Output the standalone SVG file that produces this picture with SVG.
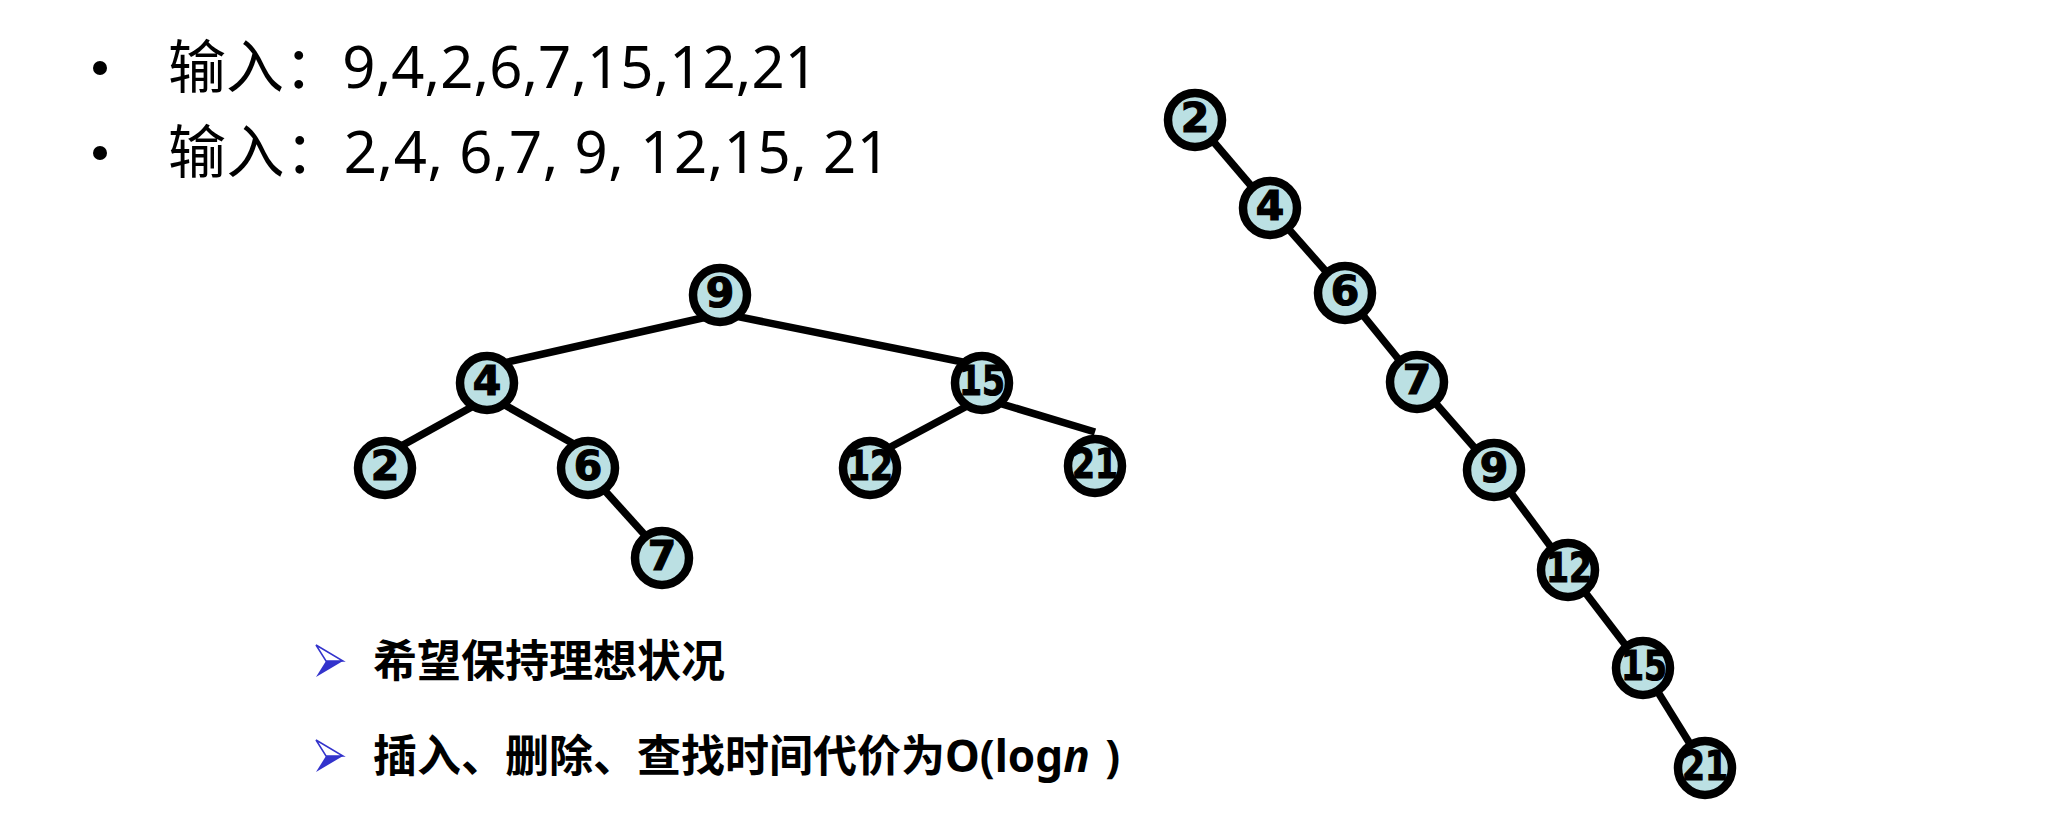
<svg xmlns="http://www.w3.org/2000/svg" width="2048" height="824" viewBox="0 0 2048 824">
<style>
.node circle{fill:#BBE0E3;stroke:#000;stroke-width:8.5}
.node text{font-family:"DejaVu Sans",sans-serif;font-weight:bold;font-size:41px;text-anchor:middle;fill:#000;stroke:#000;stroke-width:1.2}
.edge{stroke:#000;stroke-width:7.5;stroke-linecap:butt;fill:none}
.top{font-family:"Noto Sans","Noto Sans CJK SC",sans-serif;font-size:58px;fill:#000}
.bot{font-family:"Noto Sans","Noto Sans CJK SC",sans-serif;font-size:44px;font-weight:bold;fill:#000}
.arrUp{fill:#fff;stroke:#3333CC;stroke-width:1.5;stroke-linejoin:miter}
.arrDn{fill:#3333CC}
</style>
<defs>
<g id="arrow">
<polygon class="arrUp" points="0,0 27,16 10,16"/>
<polygon class="arrDn" points="10,16 27,16 0,32"/>
</g>
</defs>
<rect width="2048" height="824" fill="#fff"/>

<g id="bullets">
<circle cx="100" cy="68" r="7" fill="#000"/>
<circle cx="100" cy="153" r="7" fill="#000"/>
<text class="top" x="168" y="88" textLength="650">输入：9,4,2,6,7,15,12,21</text>
<text class="top" x="168" y="173" textLength="722">输入：2,4, 6,7, 9, 12,15, 21</text>
</g>

<g id="connectors">
<line class="edge" x1="720" y1="314" x2="490" y2="366"/>
<line class="edge" x1="722" y1="313.4" x2="980" y2="365.5"/>
<line class="edge" x1="487" y1="398.5" x2="385" y2="455"/>
<line class="edge" x1="487" y1="395" x2="588" y2="452"/>
<line class="edge" x1="588" y1="472" x2="662" y2="554"/>
<line class="edge" x1="982" y1="398" x2="870" y2="458"/>
<line class="edge" x1="982" y1="398" x2="1095" y2="432"/>
<line class="edge" x1="1195" y1="120" x2="1270" y2="208"/>
<line class="edge" x1="1270" y1="208" x2="1345" y2="293"/>
<line class="edge" x1="1345" y1="293" x2="1417" y2="382"/>
<line class="edge" x1="1417" y1="382" x2="1494" y2="470"/>
<line class="edge" x1="1494" y1="470" x2="1568" y2="570"/>
<line class="edge" x1="1568" y1="570" x2="1643" y2="668"/>
<line class="edge" x1="1643" y1="668" x2="1705" y2="768"/>
</g>

<g id="t9" class="node"><circle cx="720" cy="295" r="27"/><text x="720" y="307">9</text></g>
<g id="t4" class="node"><circle cx="487" cy="383" r="27"/><text x="487" y="395">4</text></g>
<g id="t15" class="node"><circle cx="982" cy="383" r="27"/><text x="982" y="395" textLength="46" lengthAdjust="spacingAndGlyphs">15</text></g>
<g id="t2" class="node"><circle cx="385" cy="468" r="27"/><text x="385" y="480">2</text></g>
<g id="t6" class="node"><circle cx="588" cy="468" r="27"/><text x="588" y="480">6</text></g>
<g id="t12" class="node"><circle cx="870" cy="468" r="27"/><text x="870" y="480" textLength="46" lengthAdjust="spacingAndGlyphs">12</text></g>
<g id="t21" class="node"><circle cx="1095" cy="466" r="27"/><text x="1095" y="478" textLength="46" lengthAdjust="spacingAndGlyphs">21</text></g>
<g id="t7" class="node"><circle cx="662" cy="558" r="27"/><text x="662" y="570">7</text></g>

<g id="c2" class="node"><circle cx="1195" cy="120" r="27"/><text x="1195" y="132">2</text></g>
<g id="c4" class="node"><circle cx="1270" cy="208" r="27"/><text x="1270" y="220">4</text></g>
<g id="c6" class="node"><circle cx="1345" cy="293" r="27"/><text x="1345" y="305">6</text></g>
<g id="c7" class="node"><circle cx="1417" cy="382" r="27"/><text x="1417" y="394">7</text></g>
<g id="c9" class="node"><circle cx="1494" cy="470" r="27"/><text x="1494" y="482">9</text></g>
<g id="c12" class="node"><circle cx="1568" cy="570" r="27"/><text x="1569" y="582" textLength="46" lengthAdjust="spacingAndGlyphs">12</text></g>
<g id="c15" class="node"><circle cx="1643" cy="668" r="27"/><text x="1644" y="680" textLength="46" lengthAdjust="spacingAndGlyphs">15</text></g>
<g id="c21" class="node"><circle cx="1705" cy="768" r="27"/><text x="1705" y="780" textLength="46" lengthAdjust="spacingAndGlyphs">21</text></g>

<g id="notes">
<use href="#arrow" x="316" y="645"/>
<use href="#arrow" x="316" y="740"/>
<text class="bot" x="373" y="677">希望保持理想状况</text>
<text class="bot" x="373" y="772">插入、删除、查找时间代价为O(log<tspan font-style="italic">n</tspan><tspan dx="4"> )</tspan></text>
</g>
</svg>
